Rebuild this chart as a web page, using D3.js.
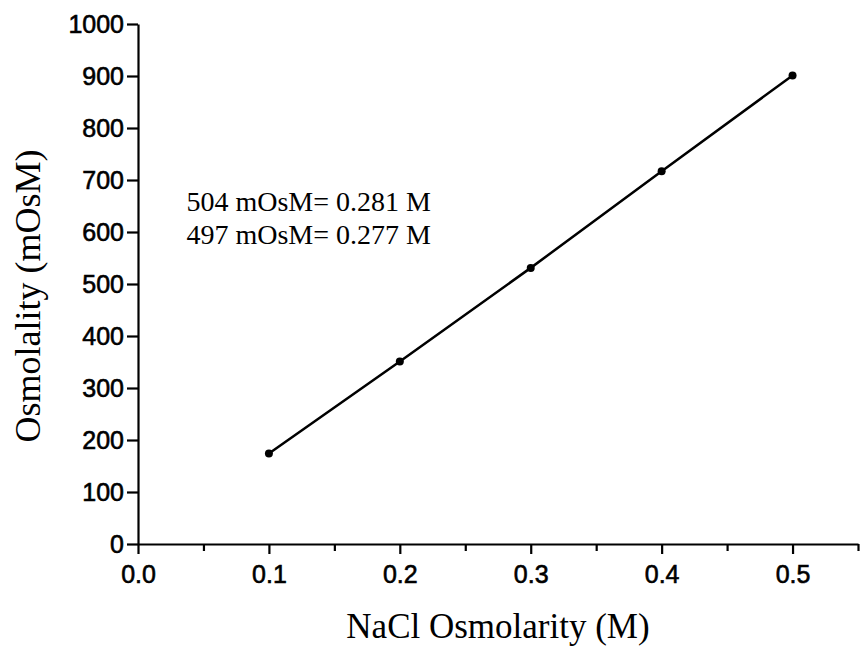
<!DOCTYPE html>
<html>
<head>
<meta charset="utf-8">
<script src="https://cdn.jsdelivr.net/npm/d3@7"></script>
<style>
  body { margin: 0; background: #fff; }
  .tick text { font-family: "Liberation Sans", Arial, sans-serif; font-size: 25px; fill: #000; stroke: #000; stroke-width: 0.6px; }
  .axis path, .axis line { stroke: #000; stroke-width: 2.2px; }
</style>
</head>
<body>
<div id="chart"></div>
<script>
// Data
const nacl = [0.1, 0.2, 0.3, 0.4, 0.5];
const osmolality = [174, 351, 531, 717, 901];
const yTicks = [0, 100, 200, 300, 400, 500, 600, 700, 800, 900, 1000];
const xTicks = [0.0, 0.1, 0.2, 0.3, 0.4, 0.5];
const xMinorTicks = [0.05, 0.15, 0.25, 0.35, 0.45, 0.55];
const notes = ["504 mOsM= 0.281 M", "497 mOsM= 0.277 M"];

const points = nacl.map((x, i) => ({ x: x, y: osmolality[i] }));

// Dimensions
const margin = { top: 24, right: 5, bottom: 106, left: 138 };
const width = 863 - margin.left - margin.right;
const height = 650 - margin.top - margin.bottom;

const svg = d3.select("#chart")
  .append("svg")
  .attr("width", 863)
  .attr("height", 650)
  .append("g")
  .attr("transform", `translate(${margin.left},${margin.top})`);

// Scales
const x = d3.scaleLinear().domain([0, 0.55]).range([0, width]);
const y = d3.scaleLinear().domain([0, 1000]).range([height, 0]);

// Minor x ticks
svg.append("g")
  .attr("class", "axis")
  .attr("transform", `translate(0,${height})`)
  .call(d3.axisBottom(x).tickValues(xMinorTicks).tickSize(7).tickFormat(""))
  .call(g => g.select(".domain").remove());

// X axis
svg.append("g")
  .attr("class", "axis")
  .attr("transform", `translate(0,${height})`)
  .call(d3.axisBottom(x).tickValues(xTicks).tickSize(10).tickPadding(11).tickSizeOuter(0).tickFormat(d3.format(".1f")));

// Y axis
svg.append("g")
  .attr("class", "axis")
  .call(d3.axisLeft(y).tickValues(yTicks).tickSize(11).tickPadding(3).tickSizeOuter(0).tickFormat(d3.format("d")));

// Axis labels
svg.append("text")
  .attr("x", width / 2)
  .attr("y", height + 94)
  .style("text-anchor", "middle")
  .style("font-family", "'Liberation Serif', 'Times New Roman', serif")
  .style("font-size", "35px")
  .text("NaCl Osmolarity (M)");

svg.append("text")
  .attr("transform", "rotate(-90)")
  .attr("x", -272)
  .attr("y", -98)
  .style("text-anchor", "middle")
  .style("font-family", "'Liberation Serif', 'Times New Roman', serif")
  .style("font-size", "36px")
  .text("Osmolality (mOsM)");

// Annotation
svg.selectAll(".note")
  .data(notes)
  .join("text")
  .attr("class", "note")
  .attr("x", x(0.037))
  .attr("y", (d, i) => y(640) + i * 33)
  .style("font-family", "'Liberation Serif', 'Times New Roman', serif")
  .style("font-size", "28px")
  .text(d => d);

// Line
svg.append("path")
  .datum(points)
  .attr("fill", "none")
  .attr("stroke", "#000")
  .attr("stroke-width", 2.5)
  .attr("d", d3.line().x(d => x(d.x)).y(d => y(d.y)));

// Points
svg.selectAll("circle")
  .data(points)
  .join("circle")
  .attr("cx", d => x(d.x))
  .attr("cy", d => y(d.y))
  .attr("r", 4)
  .attr("fill", "#000");
</script>
</body>
</html>
